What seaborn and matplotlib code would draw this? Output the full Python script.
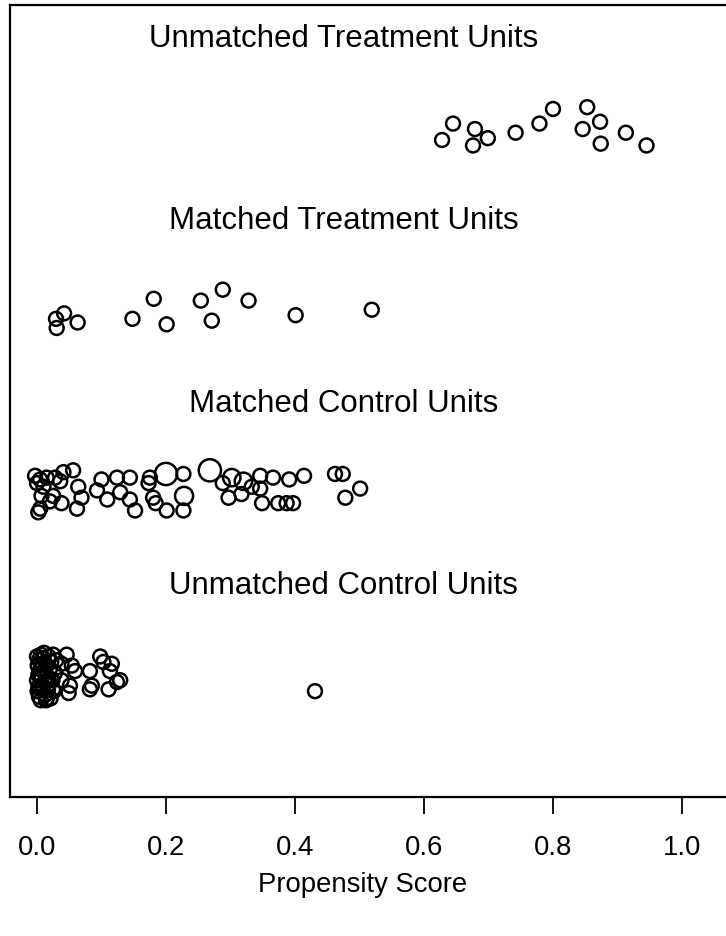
import matplotlib
matplotlib.use("Agg")
import matplotlib.pyplot as plt
import seaborn as sns
import pandas as pd

# ---------------- data ----------------
group_names = ["Unmatched Treatment Units", "Matched Treatment Units",
               "Matched Control Units", "Unmatched Control Units"]
group_centers = [4.0, 3.0, 2.0, 1.0]

ut_x = [0.628, 0.645, 0.679, 0.676, 0.699, 0.742, 0.779, 0.800, 0.846, 0.853,
        0.873, 0.874, 0.913, 0.945]
ut_y = [3.95, 4.04, 4.01, 3.92, 3.96, 3.99, 4.04, 4.12, 4.01, 4.13,
        4.05, 3.93, 3.99, 3.92]

mt_x = [0.0295, 0.042, 0.0305, 0.063, 0.148, 0.181, 0.201, 0.254, 0.271, 0.288,
        0.328, 0.401, 0.519]
mt_y = [2.97, 3.00, 2.92, 2.95, 2.97, 3.08, 2.94, 3.07, 2.96, 3.13,
        3.07, 2.99, 3.02]

mc_x = [-0.003, 0.005, 0.000, 0.015, 0.010, 0.028, 0.041, 0.056, 0.036, 0.007,
        0.025, 0.038, 0.005, 0.002, 0.064, 0.069, 0.062, 0.020,
        0.100, 0.124, 0.144, 0.093, 0.109, 0.129, 0.144, 0.152,
        0.173, 0.175, 0.200, 0.227, 0.180, 0.184, 0.201, 0.228, 0.227,
        0.268, 0.288, 0.302, 0.320, 0.346, 0.366, 0.297, 0.317, 0.333, 0.346,
        0.349, 0.374, 0.387, 0.397, 0.391, 0.414,
        0.462, 0.474, 0.478, 0.501]
mc_y = [2.11, 2.09, 2.07, 2.10, 2.05, 2.10, 2.13, 2.14, 2.08, 2.00,
        2.00, 1.96, 1.93, 1.91, 2.05, 1.99, 1.93, 1.97,
        2.09, 2.10, 2.10, 2.03, 1.98, 2.02, 1.98, 1.92,
        2.07, 2.10, 2.12, 2.12, 1.99, 1.96, 1.92, 2.00, 1.92,
        2.14, 2.07, 2.10, 2.08, 2.11, 2.10, 1.99, 2.01, 2.05, 2.04,
        1.96, 1.96, 1.96, 1.96, 2.09, 2.11,
        2.12, 2.12, 1.99, 2.04]
mc_cex = [1.0] * len(mc_x)
mc_cex[28] = 1.6   # large circle near 0.20
mc_cex[35] = 1.6   # large circle near 0.27
mc_cex[33] = 1.3
mc_cex[37] = 1.25
mc_cex[38] = 1.25

uc_x = [0.000, 0.003, 0.001, 0.005, 0.002, 0.000, 0.004, 0.001, 0.003, 0.006,
        0.008, 0.007, 0.009, 0.010, 0.011, 0.012, 0.013, 0.014, 0.015, 0.016,
        0.017, 0.018, 0.019, 0.020, 0.021, 0.022, 0.024, 0.026, 0.028, 0.030,
        0.002, 0.006, 0.011, 0.004,
        0.025, 0.046, 0.038, 0.054, 0.059, 0.082, 0.098, 0.103, 0.116, 0.113,
        0.129, 0.124, 0.111, 0.085, 0.082, 0.051, 0.049, 0.038, 0.025, 0.023,
        0.015, 0.431]
uc_y = [1.12, 1.10, 1.07, 1.05, 1.02, 0.99, 0.96, 0.93, 0.90, 1.13,
        1.08, 1.00, 0.95, 1.11, 1.04, 0.98, 0.91, 0.88, 1.07, 1.01,
        0.94, 1.12, 0.97, 1.05, 0.89, 1.09, 0.99, 0.93, 1.03, 1.10,
        0.95, 0.88, 1.14, 1.01,
        1.13, 1.13, 1.08, 1.07, 1.04, 1.04, 1.12, 1.09, 1.08, 1.04,
        0.99, 0.98, 0.94, 0.96, 0.94, 0.96, 0.92, 0.99, 0.94, 0.995,
        0.89, 0.93]

x_ticks = [0.0, 0.2, 0.4, 0.6, 0.8, 1.0]
x_tick_labels = ["0.0", "0.2", "0.4", "0.6", "0.8", "1.0"]
x_label = "Propensity Score"

# ---------------- build table ----------------
df = pd.concat([
    pd.DataFrame({"pscore": ut_x, "y": ut_y, "cex": 1.0}),
    pd.DataFrame({"pscore": mt_x, "y": mt_y, "cex": 1.0}),
    pd.DataFrame({"pscore": mc_x, "y": mc_y, "cex": mc_cex}),
    pd.DataFrame({"pscore": uc_x, "y": uc_y, "cex": 1.0}),
], ignore_index=True)

sns.set_style("white")
plt.rcParams["font.family"] = ["Liberation Sans", "DejaVu Sans"]

W, H = 726, 937
fig = plt.figure(figsize=(W / 100, H / 100), dpi=100)
# plot region: left px 10, top px 6, bottom px 798; right edge beyond the picture
ax = fig.add_axes([10 / W, 1 - 798 / H, (790 - 10) / W, (798 - 6) / H])

base = 100.0
size_map = {c: base * c ** 2 for c in sorted(set(df["cex"]))}
sns.scatterplot(data=df, x="pscore", y="y", size="cex", sizes=size_map,
                marker="o", legend=False, ax=ax)
# make circles open
for coll in ax.collections:
    coll.set_facecolor("none")
    coll.set_edgecolor("black")
    coll.set_linewidth(1.8)

x0 = -27 / 645
x1 = (790 - 37) / 645
ax.set_xlim(x0, x1)
ax.set_ylim(0.35, 0.35 + 792 / 182.5)

for name, c in zip(group_names, group_centers):
    ax.text(0.475, c + 0.51, name, ha="center", va="center", fontsize=22.5,
            color="black")

ax.set_yticks([])
ax.set_xticks(x_ticks)
ax.set_xticklabels(x_tick_labels, fontsize=19.8)
ax.tick_params(axis="x", direction="out", length=12.5, width=1.3,
               pad=14, colors="black", bottom=True)
for side in ["left", "top", "bottom", "right"]:
    ax.spines[side].set_visible(True)
    ax.spines[side].set_color("black")
    ax.spines[side].set_linewidth(1.6)
ax.set_xlabel("")
ax.set_ylabel("")
fig.text(363 / W, 1 - 885 / H, x_label, ha="center", va="center",
         fontsize=19.8, color="black")

fig.savefig("out.png", dpi=100, facecolor="white")
